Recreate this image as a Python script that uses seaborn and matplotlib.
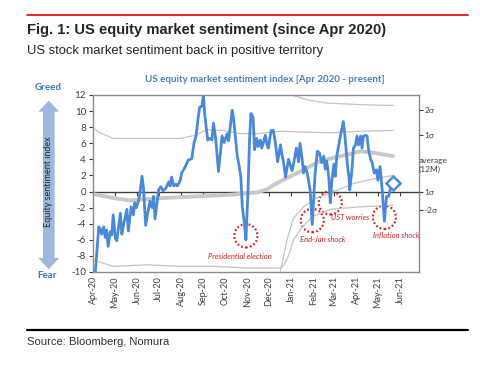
import matplotlib
matplotlib.use("Agg")
import matplotlib.pyplot as plt
import matplotlib.dates as mdates
from matplotlib.lines import Line2D
from matplotlib.patches import Ellipse, Polygon
import seaborn as sns
import pandas as pd

# US equity market sentiment index, days since 1 Apr 2020
start = pd.Timestamp("2020-04-01")
day_offsets = [3, 8, 10, 12, 15, 17, 19, 21, 24, 26, 28, 31, 33, 38, 40, 42, 47, 49, 53, 56,
               58, 60, 63, 65, 68, 70, 73, 76, 79, 82, 84, 86, 91, 94, 97, 101, 105, 107, 109, 112,
               115, 117, 121, 123, 128, 132, 137, 140, 143, 146, 148, 151, 153, 155, 159, 162, 165, 167, 170, 174,
               179, 182, 186, 188, 193, 195, 197, 200, 202, 205, 207, 210, 212, 215, 217, 219, 222, 224, 227, 229,
               232, 234, 239, 241, 243, 247, 250, 253, 256, 260, 262, 264, 267, 271, 276, 278, 282, 285, 287, 290,
               292, 294, 297, 301, 304, 306, 308, 311, 314, 317, 320, 322, 324, 327, 329, 331, 334, 336, 338, 340,
               343, 347, 349, 351, 353, 355, 356, 359, 361, 364, 366, 368, 371, 373, 375, 378, 380, 382, 385, 387,
               390, 393, 395, 398, 401, 404, 407, 410, 412, 416]
sentiment = [-10.3, -4.4, -4.6, -5.3, -4.4, -5.7, -4.8, -6.8, -5.0, -5.4, -2.9, -5.8, -6.1, -2.7, -5.3, -4.3, -2.2, -4.9, -1.9, -2.9,
             -1.4, -2.0, -1.2, -0.2, 1.9, 0.4, -4.2, -2.6, -1.2, -2.0, -0.6, -3.4, 0.2, 0.6, 0.1, 0.4, 1.2, 0.7, 1.8, 0.7,
             0.9, 0.7, 1.4, 2.3, 3.1, 3.9, 4.1, 6.0, 7.0, 9.3, 10.5, 10.6, 12.0, 9.5, 6.4, 6.6, 6.4, 8.5, 6.6, 2.5,
             6.9, 6.1, 7.2, 6.3, 10.1, 9.0, 7.2, 4.4, 3.5, 1.8, -1.9, -4.0, -6.0, 0.2, 6.4, 9.7, 9.2, 5.2, 6.6, 5.6,
             6.4, 5.4, 7.0, 5.9, 5.4, 7.6, 7.6, 6.0, 3.7, 5.8, 4.6, 3.7, 1.8, 4.0, 2.6, 3.4, 5.4, 3.7, 6.0, 4.0,
             2.3, 3.1, 2.3, 0.2, -4.1, -1.0, 2.3, 5.0, 4.8, 3.6, 4.4, 2.8, 3.8, 1.7, -1.4, 1.1, 3.4, 1.9, 4.4, 5.4,
             6.9, 8.7, 7.2, 5.2, 3.1, 1.7, 0.2, 2.6, 5.4, 5.8, 6.9, 5.8, 6.9, 5.4, 6.9, 7.0, 6.9, 5.2, 4.0, 3.6,
             2.3, 2.7, 1.4, 3.1, 0.2, -3.7, -0.6, -0.6, 0.2, 1.1]

# rolling 12M average and sigma bands
avg_days = [0, 28, 51, 97, 144, 190, 228, 242, 250, 267, 294, 315, 343, 371, 391, 416]
avg_vals = [-0.3, -0.8, -1.1, -0.8, -0.6, -0.4, -0.1, 0.3, 0.8, 1.6, 2.8, 3.8, 4.4, 5.0, 4.8, 4.4]
plus1_days = [0, 10, 28, 75, 121, 142, 158, 179, 204, 228, 260, 287, 329, 371, 416]
plus1_vals = [7.9, 7.3, 6.6, 6.6, 6.6, 7.0, 7.7, 7.6, 7.2, 7.2, 7.5, 7.4, 7.3, 7.5, 7.6]
plus2_days = [271, 276, 297, 324, 371, 416]
plus2_vals = [12.6, 12.0, 11.4, 11.0, 10.8, 10.7]
minus1_days = [259, 269, 278, 292, 310, 329, 361, 380, 416]
minus1_vals = [-10.3, -6.0, -3.3, -1.9, -0.8, -0.2, 1.0, 1.4, 2.0]
minus2_days = [0, 28, 75, 121, 167, 214, 260, 265, 271, 278, 290, 305, 329, 371, 416]
minus2_vals = [-8.5, -9.3, -9.1, -9.3, -9.3, -9.5, -9.5, -9.1, -8.0, -6.0, -4.4, -3.1, -2.2, -1.9, -1.7]

# events marked with red circles
events = ["Presidential election", "End-Jan shock", "UST worries", "Inflation shock"]
event_days = [212, 304, 329, 404]

right_ticks = [10.1, 7.0, 0.0, -2.3]
right_labels = ["2σ", "1σ", "1σ", "-2σ"]

sns.set_theme(style="white")
plt.rcParams["font.family"] = ["Lato", "DejaVu Sans"]
plt.rcParams["axes.unicode_minus"] = False

W, H = 480, 390
fig = plt.figure(figsize=(4.8, 3.9), dpi=100)
ax = fig.add_axes([93 / W, 1 - 272 / H, 326 / W, 177 / H])

def days(d):
    return [start + pd.Timedelta(days=x) for x in d]

grey = "#c4c4c4"
for d, v in [(plus1_days, plus1_vals), (plus2_days, plus2_vals),
             (minus1_days, minus1_vals), (minus2_days, minus2_vals)]:
    sns.lineplot(x=days(d), y=v, ax=ax, color=grey, lw=0.9)
sns.lineplot(x=days(avg_days), y=avg_vals, ax=ax, color="#c8c8c8", lw=2.8)

blue = "#4a89d8"
df = pd.DataFrame({"date": days(day_offsets), "value": sentiment})
sns.lineplot(data=df, x="date", y="value", ax=ax, color=blue, lw=2.0)
ax.plot(df["date"].iloc[-1], df["value"].iloc[-1], marker="D", ms=7,
        mfc="white", mec=blue, mew=1.8)

# event circles and labels
red = "#d42020"
label_dx = [-9, 15, 28, 17]
label_dy = [-2.6, -2.35, -1.8, -2.2]
for name, d, dx, dy in zip(events, event_days, label_dx, label_dy):
    v = df.loc[df["date"] == start + pd.Timedelta(days=d), "value"].iloc[0]
    cy = v + 0.5 if v < -2 else v
    cx = mdates.date2num(start + pd.Timedelta(days=d))
    ax.add_patch(Ellipse((cx, cy), 32, 2.9, fill=False, ec=red, lw=1.6,
                         ls=(0, (0.8, 1.0))))
    ax.text(cx + dx, cy + dy, name, color=red, fontsize=5.5, style="italic",
            ha="center", va="center")

ax.set_ylim(-10, 12)
ax.set_yticks(range(-10, 13, 2))
ax.set_xlim(start, start + pd.Timedelta(days=452))
months = pd.date_range("2020-04-01", "2021-06-01", freq="MS")
ax.set_xticks(months)
ax.xaxis.set_major_formatter(mdates.DateFormatter("%b-%y"))
ax.tick_params(axis="x", rotation=90, labelsize=6.5, length=0, pad=3, colors="#404040")
ax.tick_params(axis="y", labelsize=7, length=3, width=0.8, direction="out",
               colors="#404040", left=True, pad=2)
ax.set_xlabel("")
ax.set_ylabel("")
for s in ax.spines.values():
    s.set_color("#8c8c8c")
    s.set_linewidth(1)

# zero axis with month ticks
sec = ax.secondary_xaxis(10 / 22)
sec.xaxis.set_ticks_position("bottom")
sec.set_xticks(mdates.date2num(months))
sec.tick_params(axis="x", labelbottom=False, labeltop=False, length=3,
                width=0.8, color="#404040", direction="out")
sec.spines["bottom"].set_color("#404040")
sec.spines["bottom"].set_linewidth(1)
sec.spines["top"].set_visible(False)

ax2 = ax.twinx()
ax2.set_ylim(ax.get_ylim())
ax2.set_yticks(right_ticks, right_labels)
ax2.tick_params(axis="y", labelsize=6, length=3, width=0.8, direction="out",
                colors="#404040", right=True, pad=1)
ax2.grid(False)
for s in ax2.spines.values():
    s.set_visible(False)
ax2.text(1.0, 3.3, "average\n(12M)", transform=ax2.get_yaxis_transform(),
         fontsize=6, color="#404040", ha="left", va="center", linespacing=1.3)

# figure furniture
def fx(x):
    return x / W

def fy(y):
    return 1 - y / H

fig.add_artist(Line2D([fx(27), fx(468)], [fy(15), fy(15)], color="#e00000", lw=1.2))
fig.add_artist(Line2D([fx(27), fx(468)], [fy(330), fy(330)], color="black", lw=1.6))
fig.text(fx(27), fy(30), "Fig. 1: US equity market sentiment (since Apr 2020)",
         fontsize=10.6, fontweight="bold", family="Liberation Sans", color="#262626", va="center")
fig.text(fx(27), fy(51), "US stock market sentiment back in positive territory",
         fontsize=9.4, family="Liberation Sans", color="#262626", va="center")
fig.text(fx(27), fy(342), "Source: Bloomberg, Nomura",
         fontsize=8.1, family="Liberation Sans", color="#333333", va="center")
fig.text(fx(265), fy(79), "US equity market sentiment index [Apr 2020 - present]",
         fontsize=7, fontweight="bold", color="#4a7ebb", ha="center", va="center")

arrow = [(48.8, 100.7), (59.3, 111.7), (54.6, 111.7), (54.6, 258), (59.3, 258),
         (48.8, 269.3), (38.3, 258), (43, 258), (43, 111.7), (38.3, 111.7)]
fig.add_artist(Polygon([(fx(x), fy(y)) for x, y in arrow], closed=True,
                       transform=fig.transFigure, fc="#9db8dc", ec="none"))
fig.text(fx(48.5), fy(182), "Equity sentiment index", rotation=90, fontsize=6.5,
         color="#262626", ha="center", va="center")
fig.text(fx(48), fy(88), "Greed", fontsize=7, fontweight="bold", color="#3a78c4",
         ha="center", va="center")
fig.text(fx(47), fy(276), "Fear", fontsize=7, fontweight="bold", color="#3a78c4",
         ha="center", va="center")

fig.savefig("out.png", dpi=100, facecolor="white")
